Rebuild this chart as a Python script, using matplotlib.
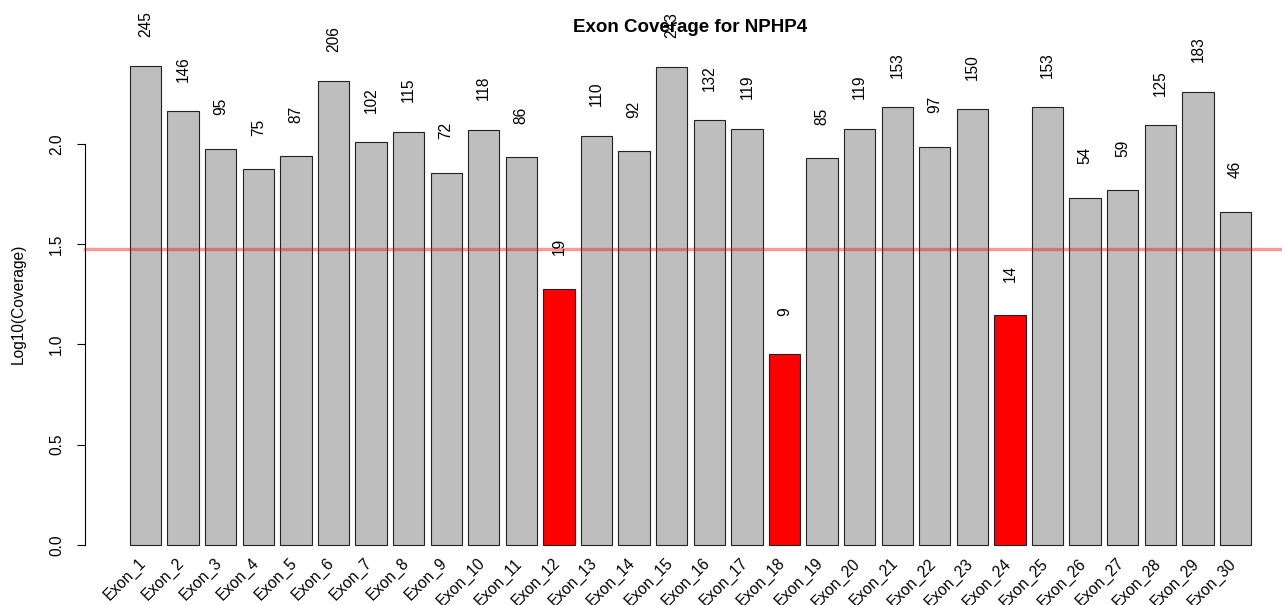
import numpy as np
import matplotlib
matplotlib.use('Agg')
import matplotlib.pyplot as plt

plt.rcParams['font.family'] = ['Liberation Sans', 'DejaVu Sans']

# coverage per exon (raw depth, shown as labels), bar height is log10
exons = ['Exon_%d' % i for i in range(1, 31)]
coverage = [245, 146, 95, 75, 87, 206, 102, 115, 72, 118,
            86, 19, 110, 92, 243, 132, 119, 9, 85, 119,
            153, 97, 150, 14, 153, 54, 59, 125, 183, 46]
threshold = 30
title = 'Exon Coverage for NPHP4'

W, H = 1282, 605
fig = plt.figure(figsize=(W / 100, H / 100), dpi=100)

# plot region in pixels (R-like margins, right side runs past the image)
left, right, top, bottom = 85, 1296, 47, 564
ax = fig.add_axes([left / W, (H - bottom) / H, (right - left) / W, (bottom - top) / H])

logcov = np.log10(coverage)
n = len(coverage)
xpos = 0.7 + 1.2 * np.arange(n)
colors = ['red' if c < threshold else '#BEBEBE' for c in coverage]

ax.bar(xpos, logcov, width=1.0, color=colors, edgecolor='#222222', linewidth=0.8, zorder=2)

# R-style 4% padding
xr = (0.2, 1.2 * n)
xpad = 0.04 * (xr[1] - xr[0])
ax.set_xlim(xr[0] - xpad, xr[1] + xpad)
ymax = logcov.max()
ax.set_ylim(-0.04 * ymax, ymax * 1.04)

ax.axhline(np.log10(threshold), color='red', alpha=0.4, linewidth=2.4, zorder=3, clip_on=False)

for x, v, c in zip(xpos, logcov, coverage):
    ax.text(x, v + 0.21, str(c), rotation=90, ha='center', va='center',
            fontsize=11.2, clip_on=False, zorder=4)

for x, lab in zip(xpos, exons):
    ax.text(x - 0.05, -0.08, lab, rotation=45, ha='right', va='center',
            rotation_mode='anchor', fontsize=11.2, clip_on=False)

for s in ['top', 'right', 'bottom']:
    ax.spines[s].set_visible(False)
ax.spines['left'].set_bounds(0, 2)
ax.spines['left'].set_linewidth(0.8)
ax.set_xticks([])
yt = [0.0, 0.5, 1.0, 1.5, 2.0]
ax.set_yticks(yt)
ax.set_yticklabels(['%.1f' % t for t in yt], rotation=90, va='center', fontsize=11.2)
ax.tick_params(axis='y', length=6, width=0.8, pad=9)
ax.set_facecolor('none')

ax.set_title(title, fontsize=13.5, fontweight='bold', pad=11)
fig.text(18 / W, 1 - 304 / H, 'Log10(Coverage)', rotation=90, ha='center', va='center', fontsize=11.2)

fig.savefig('out.png', dpi=100)
